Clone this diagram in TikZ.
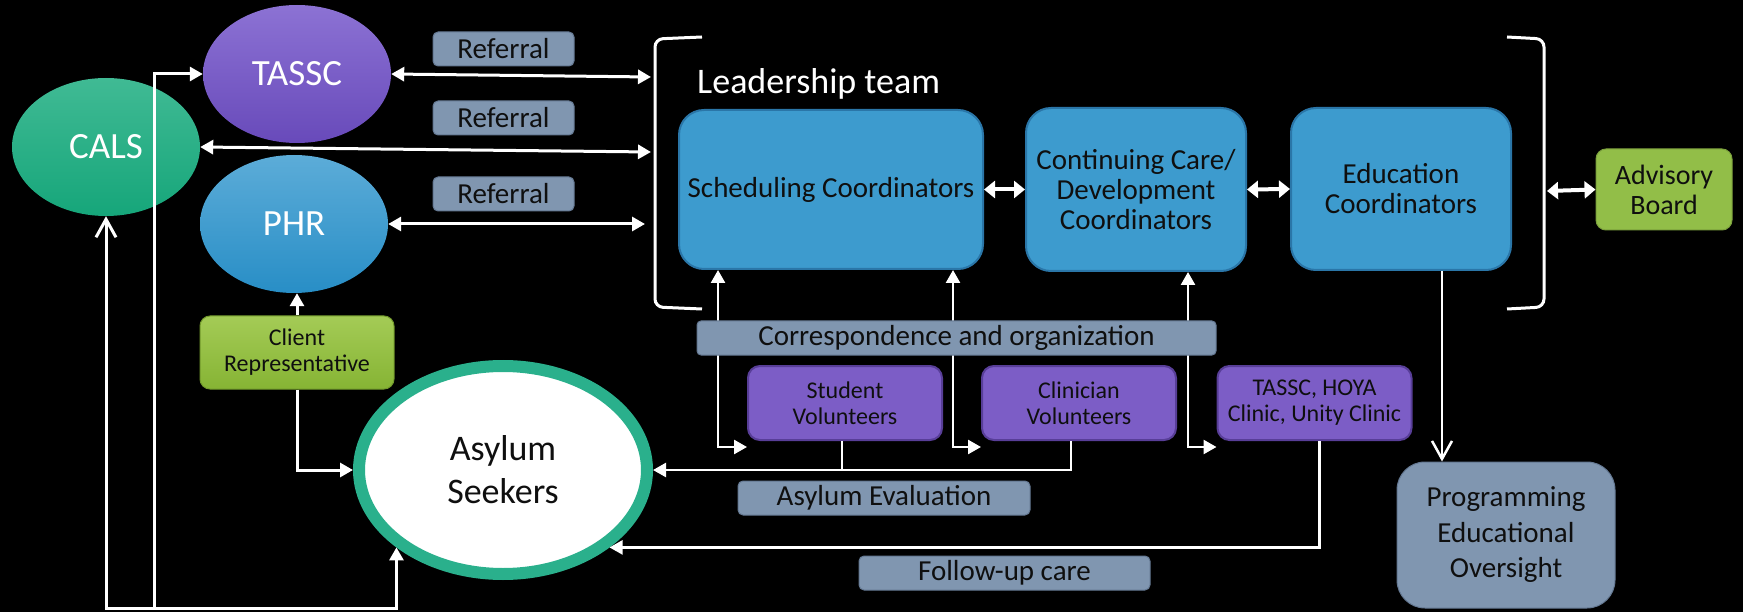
\documentclass[tikz,border=0pt]{standalone}
\usepackage{fontspec}
\setmainfont{Carlito}
\usetikzlibrary{arrows.meta,calc,shapes.geometric}

\definecolor{purpT}{RGB}{140,114,212}
\definecolor{purpB}{RGB}{104,74,186}
\definecolor{calsT}{RGB}{64,186,148}
\definecolor{calsB}{RGB}{22,166,122}
\definecolor{phrT}{RGB}{92,172,216}
\definecolor{phrB}{RGB}{40,142,198}
\definecolor{slate}{RGB}{128,150,176}
\definecolor{slateD}{RGB}{100,120,146}
\definecolor{boxblue}{RGB}{61,155,206}
\definecolor{boxblueD}{RGB}{42,118,168}
\definecolor{advgreen}{RGB}{146,190,72}
\definecolor{clientT}{RGB}{164,203,86}
\definecolor{clientB}{RGB}{134,180,52}
\definecolor{vpurp}{RGB}{124,93,198}
\definecolor{vpurpD}{RGB}{88,62,152}
\definecolor{tealring}{RGB}{42,176,140}
\definecolor{ink}{RGB}{15,15,15}

\tikzset{
  ell/.style={ellipse, minimum width=188pt, minimum height=138pt, inner sep=0pt, text=white, font=\fontsize{37}{44}\selectfont},
  lab/.style={rectangle, rounded corners=5pt, fill=slate, draw=slateD, line width=1pt, inner sep=0pt, text=ink, font=\fontsize{29}{34}\selectfont},
  bbox/.style={rectangle, rounded corners=25pt, fill=boxblue, draw=boxblueD, line width=2pt, inner sep=0pt, align=center, text=ink, font=\fontsize{29}{30}\selectfont},
  vbox/.style={rectangle, rounded corners=12pt, fill=vpurp, draw=vpurpD, line width=2pt, inner sep=0pt, align=center, text=ink, minimum width=194pt, minimum height=74pt, font=\fontsize{24}{26}\selectfont},
  wl/.style={draw=white, line width=3pt},
  wlt/.style={draw=white, line width=2.5pt},
  wlk/.style={draw=white, line width=4pt},
  tipE/.style={-{Triangle[length=13pt,width=14pt]}},
  tipB/.style={{Triangle[length=13pt,width=14pt]}-{Triangle[length=13pt,width=14pt]}},
  tipK/.style={{Triangle[length=11pt,width=17pt]}-{Triangle[length=11pt,width=17pt]}},
  tipO/.style={-{Straight Barb[length=18pt,width=20pt]}},
}

\begin{document}
\begin{tikzpicture}[x=1pt,y=-1pt]
\useasboundingbox (0,0) rectangle (1743,612);
\fill[black] (0,0) rectangle (1743,612);

% ellipses
\node[ell, top color=purpT, bottom color=purpB] (tassc) at (297,74) {TASSC};
\node[ell, top color=calsT, bottom color=calsB] (cals) at (106,147) {CALS};
\node[ell, top color=phrT, bottom color=phrB] (phr) at (294,224) {PHR};

% referral labels
\node[lab, minimum width=141pt, minimum height=34pt] (ref1) at (503.5,49) {Referral};
\node[lab, minimum width=141pt, minimum height=34pt] (ref2) at (503.5,118) {Referral};
\node[lab, minimum width=141pt, minimum height=34pt] (ref3) at (503.5,194) {Referral};

% brackets
\draw[white, line width=3pt, rounded corners=8pt] (702,37) -- (655,39) -- (655,307) -- (702,309);
\draw[white, line width=3pt, rounded corners=8pt] (1507,37) -- (1544,39) -- (1544,307) -- (1507,309);
\node[anchor=base west, text=white, inner sep=0pt, font=\fontsize{36}{40}\selectfont] (lead) at (697,94) {Leadership team};

% leadership boxes
\node[bbox, minimum width=304pt, minimum height=159pt] (sched) at (831,189.5) {Scheduling Coordinators};
\node[bbox, minimum width=220pt, minimum height=163pt] (cont) at (1136,189.5) {Continuing Care/\\Development\\Coordinators};
\node[bbox, minimum width=220pt, minimum height=162pt] (edu) at (1401,189) {Education\\Coordinators};
\node[rectangle, rounded corners=10pt, fill=advgreen, draw=advgreen!85!black, line width=1pt, inner sep=0pt, align=center, text=ink, minimum width=136pt, minimum height=81pt, font=\fontsize{28}{30}\selectfont] (adv) at (1664,189.5) {Advisory\\Board};

% lower boxes
\node[vbox] (stud) at (845,403) {Student\\Volunteers};
\node[vbox] (clin) at (1079,403) {Clinician\\Volunteers};
\node[vbox] (hoya) at (1314.5,403) {TASSC, HOYA\\Clinic, Unity Clinic};
\node[lab, minimum width=292pt, minimum height=34pt] (aeval) at (884,498) {Asylum Evaluation};
\node[lab, minimum width=291pt, minimum height=34pt] (fup) at (1004.5,573) {Follow-up care};
\node[rectangle, rounded corners=28pt, fill=slate, draw=slateD, line width=1pt, inner sep=0pt, align=center, text=ink, minimum width=218pt, minimum height=146pt, font=\fontsize{29}{35.5}\selectfont] (prog) at (1506,535) {Programming\\Educational\\Oversight};

% client representative and asylum seekers
\node[rectangle, rounded corners=10pt, top color=clientT, bottom color=clientB, draw=clientB!85!black, line width=1pt, inner sep=0pt, align=center, text=ink, minimum width=194pt, minimum height=73pt, font=\fontsize{24}{26}\selectfont] (client) at (297,352.5) {Client\\Representative};
\node[ellipse, fill=white, draw=tealring, line width=12pt, minimum width=288pt, minimum height=208pt, inner sep=0pt, align=center, text=ink, font=\fontsize{36}{43}\selectfont] (asy) at (503,470) {Asylum\\Seekers};

% coordinates
\coordinate (lbr1) at (651,77);
\coordinate (lbr2) at (651,152);
\coordinate (lbr3) at (645,224);
\coordinate (bot) at (0,608);
\coordinate (tbase) at (154,608);
\coordinate (c1) at (718,447);
\coordinate (c2) at (953,447);
\coordinate (c3) at (1188,447);
\coordinate (rbr) at (1547,191);

% referral connectors
\draw[wl,tipB] (tassc.east) -- (lbr1);
\draw[wl,tipB] (cals.east) -- (lbr2);
\draw[wl,tipB] (phr.east) -- (lbr3);

% left loop
\draw[wl, {Straight Barb[length=18pt,width=20pt]}-{Triangle[length=13pt,width=14pt]}] (cals.south) -- (cals.south |- bot) -| (asy.-144);
\draw[wl,tipE] (tbase) |- (tassc.west);

% client representative
\draw[wl,tipE] (client.north) -- (client.north |- phr.south);
\draw[wl,tipE] (client.south) |- (asy.west);

% leadership internal arrows
\draw[wlk,tipK] (sched.east) -- (cont.west);
\draw[wlk,tipK] (cont.east) -- (edu.west);
\draw[wlk,tipK] (rbr) -- (adv.west);

% correspondence connectors (behind label)
\draw[wlt,tipB] (c1 |- sched.south) -- (c1) -- (stud.west |- c1);
\draw[wlt,tipB] (c2 |- sched.south) -- (c2) -- (clin.west |- c2);
\draw[wlt,tipB] (c3 |- cont.south) -- (c3) -- (hoya.west |- c3);
\node[lab, rounded corners=4pt, minimum width=519pt, minimum height=34pt] (corr) at (956.5,338) {Correspondence and organization};

% evaluation / follow-up
\draw[wlt] ([xshift=-3pt]stud.south) -- ([xshift=-3pt]stud.south |- asy.east);
\draw[wlt,tipE] ([xshift=-8pt]clin.south) |- (asy.east);
\draw[wlt,tipE] ([xshift=5pt]hoya.south) |- (asy.-36);

% education to programming
\draw[wlt,tipO] ([xshift=41pt]edu.south) -- ([xshift=41pt]edu.south |- prog.north);
\end{tikzpicture}
\end{document}
